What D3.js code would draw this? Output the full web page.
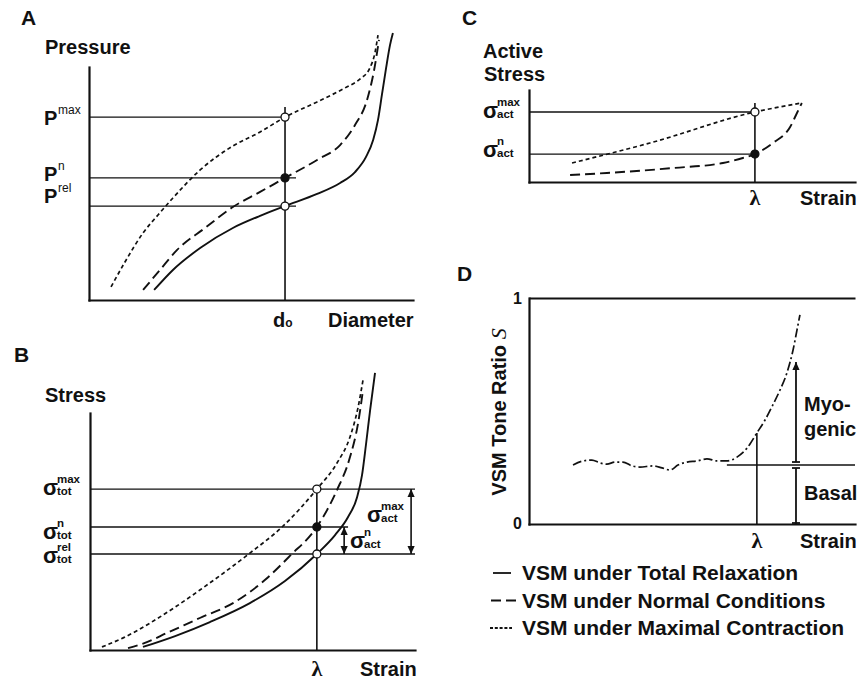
<!DOCTYPE html>
<html><head><meta charset="utf-8">
<script src="https://cdn.jsdelivr.net/npm/d3@7"></script>
<style>
body{margin:0;background:#fff;}
text{font-family:"Liberation Sans",Arial,sans-serif;font-weight:bold;fill:#111;}
</style></head><body>
<svg id="fig" width="862" height="685"></svg>
<script>
// ---------- data (arbitrary units) ----------
// Panel A: pressure vs diameter
const aRelaxed = [[2.01,0.43],[2.59,1.29],[3.43,2.23],[4.44,3.09],[5.28,3.61],[6.05,4.03],[7.04,4.55],[7.75,5.02],[8.21,5.49],[8.55,6.14],[8.77,6.87],[8.92,7.73],[9.04,8.80],[9.17,9.96],[9.29,10.94],[9.38,11.46]];
const aNormal = [[1.67,0.43],[2.19,1.29],[2.72,2.15],[3.58,3.09],[4.44,3.99],[5.28,4.64],[6.05,5.24],[7.04,6.01],[7.75,6.65],[8.21,7.51],[8.58,8.58],[8.80,9.87],[8.95,11.16]];
const aMaximal = [[0.68,0.56],[1.11,1.63],[1.67,2.88],[2.13,3.65],[2.59,4.38],[3.43,5.58],[4.44,6.61],[5.28,7.21],[6.05,7.85],[7.04,8.50],[7.90,9.10],[8.36,9.48],[8.67,9.96],[8.83,10.64],[8.92,11.37]];
const aLevels = [7.85, 5.24, 4.03];        // P max, P n, P rel
const aLevelLabels = [["P","max"],["P","n"],["P","rel"]];
const aD0 = 6.05;
// Panel B: stress vs strain
const bRelaxed = [[1.63,0.13],[2.62,0.59],[3.69,1.18],[4.92,1.98],[6.0,2.91],[6.98,4.05],[7.54,4.85],[7.94,5.61],[8.22,6.46],[8.37,7.38],[8.49,8.65],[8.62,10.13],[8.77,11.69]];
const bNormal = [[1.17,0.08],[1.69,0.30],[2.37,0.72],[3.38,1.35],[4.40,1.98],[5.38,2.95],[6.15,3.97],[6.98,5.19],[7.60,6.75],[8.0,8.14],[8.25,9.58],[8.40,10.97]];
const bMaximal = [[0.37,0.13],[1.08,0.55],[1.85,1.14],[2.62,1.81],[3.38,2.53],[4.15,3.29],[4.92,4.09],[5.91,5.19],[6.98,6.79],[7.60,7.89],[8.0,8.99],[8.25,10.25],[8.40,11.39]];
const bLevels = [6.79, 5.19, 4.05];        // sigma tot max, n, rel
const bLevelSup = ["max","n","rel"];
const bLambda = 6.98;
// Panel C: active stress vs strain
const cNormal = [[1.26,0.76],[2.39,0.98],[4.42,1.52],[5.95,2.07],[6.56,2.61],[6.93,3.04],[7.48,4.24],[8.01,5.98],[8.22,7.5],[8.37,8.59]];
const cMaximal = [[1.32,2.07],[3.71,4.24],[6.93,7.61],[8.37,8.59]];
const cLevels = [7.61, 3.04];
const cLevelSup = ["max","n"];
const cLambda = 6.93;
// Panel D: VSM tone ratio vs strain
const dNormal = [[1.35,0.261],[1.66,0.279],[1.93,0.283],[2.18,0.270],[2.39,0.265],[2.64,0.274],[2.88,0.274],[3.16,0.257],[3.40,0.252],[3.80,0.257],[4.08,0.248],[4.33,0.239],[4.57,0.261],[4.85,0.274],[5.15,0.279],[5.46,0.288],[5.77,0.279],[6.07,0.279],[6.38,0.296],[6.69,0.336],[6.99,0.403],[7.24,0.460],[7.48,0.527],[7.70,0.593],[7.91,0.668],[8.10,0.770],[8.22,0.858],[8.31,0.925]];
const dBasal = 0.261;
const dMyogenicTop = 0.717;
const dLambda = 6.99;
const dArrowX = 8.19;
const dTickLabels = ["0","1"];
const legendLabels = ["VSM under Total Relaxation","VSM under Normal Conditions","VSM under Maximal Contraction"];

// ---------- drawing ----------
const svg = d3.select("#fig");
svg.append("rect").attr("width",862).attr("height",685).attr("fill","#fff");
const defs = svg.append("defs");
defs.append("marker").attr("id","ah").attr("viewBox","0 0 10 10").attr("refX",10).attr("refY",5)
  .attr("markerWidth",8).attr("markerHeight",9).attr("markerUnits","userSpaceOnUse")
  .attr("orient","auto-start-reverse").append("path").attr("d","M0,0.5L10,5L0,9.5Z").attr("fill","#111");

const INK = "#111";
const styles = {
  relaxed: {dash:null, w:1.9},
  normal: {dash:"10,5", w:1.9},
  maximal: {dash:"4,3", w:1.7},
  dnormal: {dash:"9,3,2,3", w:1.7}
};
const lineGen = (x,y)=>d3.line().x(d=>x(d[0])).y(d=>y(d[1])).curve(d3.curveMonotoneX);

function drawAxes(x,y,top){
  const gx = svg.append("g").attr("transform",`translate(0,${y.range()[0]})`)
    .call(d3.axisBottom(x).tickValues([]).tickSizeOuter(0));
  const gy = svg.append("g").attr("transform",`translate(${x.range()[0]},0)`)
    .call(d3.axisLeft(y).tickValues([]).tickSizeOuter(0));
  [gx,gy].forEach(g=>g.select(".domain").attr("stroke",INK).attr("stroke-width",2.2).attr("stroke-linecap","square"));
  if(top){
    svg.append("g").attr("transform",`translate(0,${y(y.domain()[1])})`)
      .call(d3.axisTop(x).tickValues([]).tickSizeOuter(0))
      .select(".domain").attr("stroke",INK).attr("stroke-width",2.2);
  }
}
function curve(x,y,data,st){
  svg.append("path").datum(data).attr("d",lineGen(x,y)).attr("fill","none")
    .attr("stroke",INK).attr("stroke-width",st.w).attr("stroke-dasharray",st.dash);
}
function seg(x1,y1,x2,y2,w,extra){
  const l = svg.append("line").attr("x1",x1).attr("y1",y1).attr("x2",x2).attr("y2",y2)
    .attr("stroke",INK).attr("stroke-width",w||1.3);
  if(extra) extra(l);
  return l;
}
function dot(cx,cy,filled){
  svg.append("circle").attr("cx",cx).attr("cy",cy).attr("r",4)
    .attr("fill",filled?INK:"#fff").attr("stroke",INK).attr("stroke-width",1.3);
}
function txt(x,y,s,size,opts){
  opts=opts||{};
  const t = svg.append("text").attr("x",x).attr("y",y).text(s).attr("font-size",size);
  if(opts.anchor) t.attr("text-anchor",opts.anchor);
  if(opts.family) t.style("font-family",opts.family);
  if(opts.weight) t.style("font-weight",opts.weight);
  if(opts.style) t.style("font-style",opts.style);
  return t;
}
function sigma(x,b,sup,sub){
  txt(x,b,"σ",22);
  txt(x+14,b-12.5,sup,11.5);
  txt(x+14,b-0.5,sub,11.5);
}
function lambda(cx,b){ txt(cx,b,"λ",22,{anchor:"middle",family:"'Liberation Serif','DejaVu Serif',serif"}); }

// ---- Panel A ----
{
  const x = d3.scaleLinear([0,10],[89,413]);
  const y = d3.scaleLinear([0,10],[300,67]);
  txt(21,25,"A",21,{weight:900});
  txt(45,54,"Pressure",20);
  aLevels.forEach((v,i)=>{
    seg(x(0),y(v), i===0? x(aD0): x(aD0)+11, y(v));
  });
  seg(x(aD0),107,x(aD0),y(0),1.6);
  curve(x,y,aRelaxed,styles.relaxed);
  curve(x,y,aNormal,styles.normal);
  curve(x,y,aMaximal,styles.maximal);
  drawAxes(x,y);
  dot(x(aD0),y(aLevels[0]),false);
  dot(x(aD0),y(aLevels[1]),true);
  dot(x(aD0),y(aLevels[2]),false);
  const pB = [125,181,203];
  aLevelLabels.forEach((l,i)=>{ txt(44,pB[i],l[0],20); txt(58,pB[i]-11,l[1],12,{weight:"normal"}); });
  const d = txt(x(aD0)-12,327,"d",20); d.append("tspan").attr("font-size",12).text("o");
  txt(328,327,"Diameter",20);
}
// ---- Panel B ----
{
  const x = d3.scaleLinear([0,10],[90,415]);
  const y = d3.scaleLinear([0,10],[650,413]);
  txt(14,362,"B",21,{weight:900});
  txt(45,402,"Stress",20);
  seg(x(0),y(bLevels[0]),x(10),y(bLevels[0]));
  seg(x(0),y(bLevels[1]),x(7.94),y(bLevels[1]));
  seg(x(0),y(bLevels[2]),x(10),y(bLevels[2]));
  seg(x(bLambda),y(6.96),x(bLambda),y(0),1.6);
  curve(x,y,bRelaxed,styles.relaxed);
  curve(x,y,bNormal,styles.normal);
  curve(x,y,bMaximal,styles.maximal);
  drawAxes(x,y);
  dot(x(bLambda),y(bLevels[0]),false);
  dot(x(bLambda),y(bLevels[1]),true);
  dot(x(bLambda),y(bLevels[2]),false);
  // active stress arrows
  seg(x(9.88),y(bLevels[0]),x(9.88),y(bLevels[2]),1.6,l=>l.attr("marker-start","url(#ah)").attr("marker-end","url(#ah)"));
  seg(x(7.82),y(bLevels[1]),x(7.82),y(bLevels[2]),1.6,l=>l.attr("marker-start","url(#ah)").attr("marker-end","url(#ah)"));
  const sb = [495,539,563];
  bLevelSup.forEach((s,i)=>sigma(43,sb[i],s,"tot"));
  sigma(367,522,"max","act");
  sigma(350,548,"n","act");
  lambda(x(bLambda),676);
  txt(360,676,"Strain",20);
}
// ---- Panel C ----
{
  const x = d3.scaleLinear([0,10],[529,855]);
  const y = d3.scaleLinear([0,10],[182,90]);
  txt(462,25,"C",21,{weight:900});
  txt(483,58,"Active",20);
  txt(484,81,"Stress",20);
  cLevels.forEach(v=>seg(x(0),y(v),x(cLambda),y(v)));
  seg(x(cLambda),y(8.59),x(cLambda),y(0),1.6);
  curve(x,y,cNormal,styles.normal);
  curve(x,y,cMaximal,styles.maximal);
  drawAxes(x,y);
  dot(x(cLambda),y(cLevels[0]),false);
  dot(x(cLambda),y(cLevels[1]),true);
  sigma(483,118,cLevelSup[0],"act");
  sigma(483,157,cLevelSup[1],"act");
  lambda(x(cLambda),205);
  txt(800,205,"Strain",20);
}
// ---- Panel D ----
{
  const x = d3.scaleLinear([0,10],[529,855]);
  const y = d3.scaleLinear([0,1],[524,298]);
  txt(457,281,"D",21,{weight:900});
  drawAxes(x,y,true);
  seg(x(6.07),y(dBasal),x(10),y(dBasal));
  seg(x(dLambda),y(0.403),x(dLambda),y(0),1.6);
  curve(x,y,dNormal,styles.dnormal);
  const ax = x(dArrowX);
  seg(ax,y(dBasal)-3,ax,y(dMyogenicTop),1.8,l=>l.attr("marker-end","url(#ah)"));
  seg(ax,y(dBasal)+3,ax,y(0),1.8);
  [y(dBasal)-3,y(dBasal)+3,y(0)-1].forEach(yy=>seg(ax-4,yy,ax+4,yy,1.8));
  txt(522,529,dTickLabels[0],16,{anchor:"end"});
  txt(522,304,dTickLabels[1],16,{anchor:"end"});
  const yl = svg.append("text").attr("transform","translate(506,412) rotate(-90)")
    .attr("text-anchor","middle").attr("font-size",20).text("VSM Tone Ratio ");
  yl.append("tspan").style("font-family","'Liberation Serif','DejaVu Serif',serif").style("font-style","italic").style("font-weight","normal").attr("font-size",22).text("S");
  txt(804,411,"Myo-",20);
  txt(804,436,"genic",20);
  txt(804,500,"Basal",20);
  lambda(x(dLambda),548);
  txt(800,548,"Strain",20);
}
// ---- Legend ----
{
  const ly = d3.scalePoint().domain(legendLabels).range([573,628]);
  const st = [styles.relaxed, styles.normal, styles.maximal];
  const xs = [[493,511],[491,516],[490,512]];
  legendLabels.forEach((lab,i)=>{
    seg(xs[i][0],ly(lab),xs[i][1],ly(lab),1.8,l=>l.attr("stroke-dasharray",i===2?"3,1.8":st[i].dash));
    txt(522,ly(lab)+7,lab,21);
  });
}
</script>
</body></html>
